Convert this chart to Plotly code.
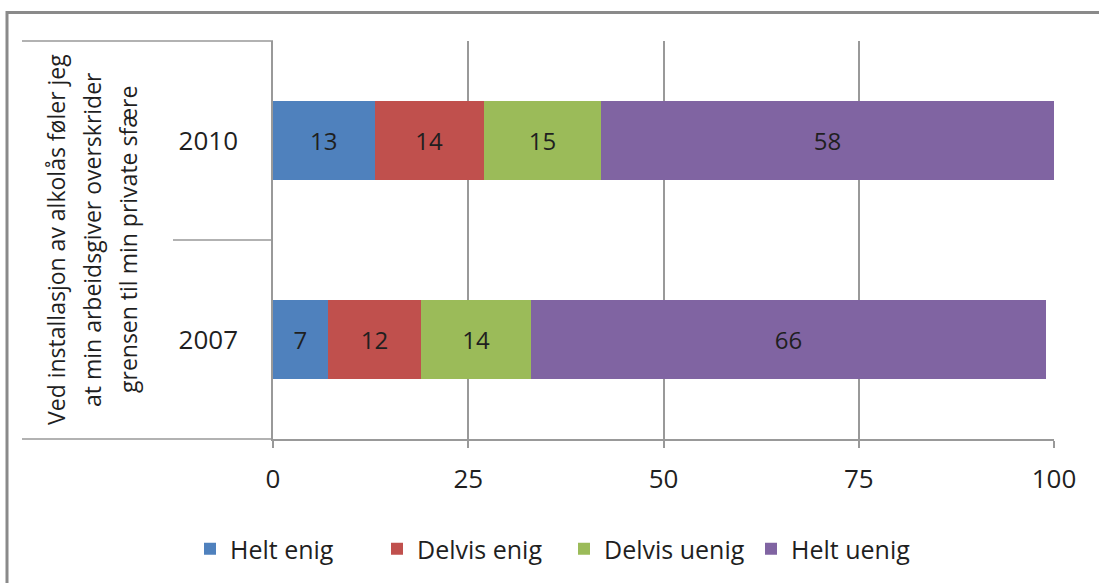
import plotly.graph_objects as go

# Survey answers (percent) per year
years = ["2007", "2010"]
series_names = ["Helt enig", "Delvis enig", "Delvis uenig", "Helt uenig"]
helt_enig = [7, 13]
delvis_enig = [12, 14]
delvis_uenig = [14, 15]
helt_uenig = [66, 58]
colors = ["#4F81BD", "#C0504D", "#9BBB59", "#8064A2"]

x_ticks = [0, 25, 50, 75, 100]
y_title_lines = [
    "Ved installasjon av alkolås føler jeg",
    "at min arbeidsgiver overskrider",
    "grensen til min private sfære",
]

W, H = 1099, 583
L, R, T, B = 273, 45, 41, 144
plot_w = W - L - R
plot_h = H - T - B

FONT = "Open Sans"
FS = 26
TEXT_COLOR = "#1f1f1f"
LINE_COLOR = "#999999"


def px(x):
    return (x - L) / plot_w


def py(y):
    return (H - B - y) / plot_h


fig = go.Figure()
for name, vals, col in zip(series_names,
                           [helt_enig, delvis_enig, delvis_uenig, helt_uenig],
                           colors):
    fig.add_trace(go.Bar(
        y=years, x=vals, name=name, orientation="h",
        marker=dict(color=col, line=dict(width=0)),
        text=[str(v) for v in vals],
        textposition="inside", insidetextanchor="middle",
        textfont=dict(family=FONT, size=FS - 2, color=TEXT_COLOR),
        width=0.4,
    ))

shapes = [
    # outer frame (left and top edges show)
    dict(type="rect", xref="paper", yref="paper",
         x0=px(7), x1=px(W + 20), y0=py(12.5), y1=py(H + 20),
         line=dict(color="#8a8a8a", width=3)),
    # category-axis grouping lines
    dict(type="line", xref="paper", yref="paper",
         x0=px(22), x1=0, y0=1, y1=1, line=dict(color=LINE_COLOR, width=1.5)),
    dict(type="line", xref="paper", yref="paper",
         x0=px(173), x1=0, y0=0.5, y1=0.5, line=dict(color=LINE_COLOR, width=1.5)),
    dict(type="line", xref="paper", yref="paper",
         x0=px(22), x1=0, y0=0, y1=0, line=dict(color=LINE_COLOR, width=1.5)),
]

# rotated multi-line axis title, one annotation per line
for line_text, cx in zip(y_title_lines, [56, 92, 128]):
    fig.add_annotation(
        xref="paper", yref="paper", x=px(cx), y=0.5,
        text=line_text, showarrow=False, textangle=-90,
        font=dict(family=FONT, size=23, color=TEXT_COLOR),
        xanchor="center", yanchor="middle",
    )

fig.update_layout(
    width=W, height=H, autosize=False,
    margin=dict(l=L, r=R, t=T, b=B, autoexpand=False),
    paper_bgcolor="white", plot_bgcolor="white",
    barmode="stack", bargap=0.6,
    shapes=shapes,
    font=dict(family=FONT, color=TEXT_COLOR),
    xaxis=dict(
        range=[0, 100], tickvals=x_ticks, ticktext=[str(t) for t in x_ticks],
        showgrid=True, gridcolor=LINE_COLOR, gridwidth=1.5,
        showline=True, linecolor=LINE_COLOR, linewidth=1.5,
        ticks="outside", ticklen=7, tickcolor=LINE_COLOR, tickwidth=1.5,
        tickfont=dict(family=FONT, size=FS, color=TEXT_COLOR),
        ticklabelstandoff=9, zeroline=False, fixedrange=True,
    ),
    yaxis=dict(
        categoryorder="array", categoryarray=years,
        showline=True, linecolor=LINE_COLOR, linewidth=1.5,
        showgrid=False, ticks="",
        tickfont=dict(family=FONT, size=FS, color=TEXT_COLOR),
        ticklabelstandoff=28, fixedrange=True,
    ),
    legend=dict(
        orientation="h", x=px(190), y=py(549), xanchor="left", yanchor="middle",
        font=dict(family=FONT, size=FS - 1, color=TEXT_COLOR),
        traceorder="normal", itemwidth=30, bgcolor="rgba(0,0,0,0)",
        entrywidth=142, entrywidthmode="pixels",
    ),
    showlegend=True,
)

fig.write_html("out.html")
